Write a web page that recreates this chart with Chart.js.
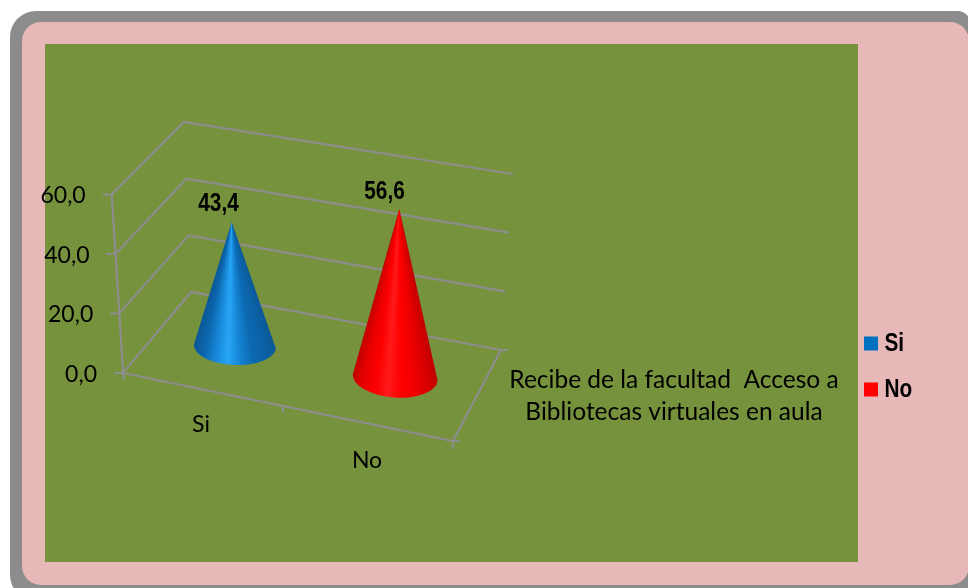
<!DOCTYPE html>
<html><head><meta charset="utf-8">
<style>html,body{margin:0;padding:0;background:#fff}canvas{display:block}</style>
<script src="https://cdn.jsdelivr.net/npm/chart.js@4"></script></head>
<body><div style="width:968px;height:588px"><canvas id="c"></canvas></div>
<script>
const categories = ['Si', 'No'];
const seriesSi = [43.4, null];
const seriesNo = [null, 56.6];
const tickLabels = ['0,0', '20,0', '40,0', '60,0'];
const valueLabels = ['43,4', '56,6'];
const depthTitle = ['Recibe de la facultad  Acceso a', 'Bibliotecas virtuales en aula'];

const BODY = 'Lato, "Open Sans", sans-serif';
const BOLD = '"Liberation Sans", sans-serif';
const GRID = '#8d8d8d';
const NARROW = 0.8;

// 3-D look: where each category sits on the perspective floor
const cones = [
  {dxBase: 0.2, dyBase: -26.5, dxTop: -2.9, dyTop: -22, rx: 41, ry: 18.5, tilt: 0.04, lab: [218.5, 203.5],
   stops: ['#0a5896', '#0c66ad', '#1787d6', '#27a5f7', '#1583d2', '#0c69b2', '#0b62a6', '#0a5896']},
  {dxBase: 0.2, dyBase: 4.5, dxTop: 4.3, dyTop: 4.4, rx: 42.5, ry: 20, tilt: 0.075, lab: [384.5, 191.5],
   stops: ['#c00000', '#e80000', '#fb0000', '#ff1a1a', '#ff0000', '#f20000', '#dc0000', '#c00000']}
];
const catLabelPos = [[201, 425], [367, 460.5]];

function wallPoints(yPx, t) {
  return {
    front: [123 - 11.3 * t, yPx],
    backL: [191 - 7 * t, yPx - 81 + 8.5 * t],
    backR: [501 + 12 * t, yPx - 23 + 2.5 * t]
  };
}
function line(ctx, pts) {
  ctx.beginPath();
  pts.forEach((p, i) => i ? ctx.lineTo(p[0], p[1]) : ctx.moveTo(p[0], p[1]));
  ctx.stroke();
}
function narrowText(ctx, s, x, y) {
  ctx.save(); ctx.translate(x, y); ctx.scale(NARROW, 1);
  ctx.fillText(s, 0, 0);
  ctx.restore();
}

const framePlugin = {
  id: 'frame',
  beforeDraw(chart) {
    const ctx = chart.ctx;
    ctx.save();
    ctx.fillStyle = '#ffffff'; ctx.fillRect(0, 0, 968, 588);
    ctx.fillStyle = '#8c8c8c';
    ctx.beginPath(); ctx.roundRect(10, 11, 960, 590, [26, 12, 0, 26]); ctx.fill();
    ctx.fillStyle = '#e6b8b7';
    ctx.beginPath(); ctx.roundRect(22, 22, 947, 563, 19); ctx.fill();
    ctx.fillStyle = '#76923c';
    ctx.fillRect(45, 44, 813, 518);
    ctx.restore();
  },
  beforeDatasetsDraw(chart) {
    const ctx = chart.ctx, y = chart.scales.y;
    ctx.save();
    ctx.strokeStyle = GRID; ctx.lineWidth = 2.2; ctx.lineJoin = 'miter';
    y.ticks.forEach((tk) => {
      const t = tk.value / y.max, py = y.getPixelForValue(tk.value), w = wallPoints(py, t);
      line(ctx, [[w.front[0] - 9, py], w.front, w.backL, w.backR]);
      ctx.fillStyle = '#000';
      ctx.font = '23px ' + BODY; ctx.textAlign = 'right'; ctx.textBaseline = 'middle';
      ctx.fillText(tk.label, w.front[0] - 26, py + 1.5);
    });
    const a = wallPoints(y.getPixelForValue(0), 0), b = wallPoints(y.getPixelForValue(y.max), 1);
    line(ctx, [b.front, [a.front[0] + 0.6, a.front[1] + 7]]);
    // floor
    const fr = [453, a.front[1] + 68];
    line(ctx, [a.front, fr, a.backR, [a.backR[0] + 7, a.backR[1]]]);
    line(ctx, [fr, [fr[0] + 7, fr[1]]]);
    line(ctx, [fr, [fr[0], fr[1] + 8]]);
    const mid = [(a.front[0] + fr[0]) / 2 - 5, (a.front[1] + fr[1]) / 2 - 0.5];
    line(ctx, [mid, [mid[0], mid[1] + 6]]);
    ctx.restore();
  },
  beforeDatasetDraw(chart, args) {
    const i = args.index, bar = args.meta.data[i], c = cones[i], ctx = chart.ctx;
    const cx = bar.x + c.dxBase, cy = bar.base + c.dyBase, ax = bar.x + c.dxTop, ay = bar.y + c.dyTop;
    const lx = cx - c.rx * Math.cos(c.tilt), ly = cy - c.rx * Math.sin(c.tilt);
    const rx = cx + c.rx * Math.cos(c.tilt), ry = cy + c.rx * Math.sin(c.tilt);
    const aR = Math.atan2(ry - ay, rx - ax), aL = Math.atan2(ly - ay, lx - ax);
    const grad = ctx.createConicGradient(aR, ax, ay), span = (aL - aR) / (2 * Math.PI);
    c.stops.slice().reverse().forEach((col, k, arr) => grad.addColorStop(span * k / (arr.length - 1), col));
    ctx.save();
    ctx.fillStyle = grad;
    ctx.beginPath();
    ctx.moveTo(ax, ay); ctx.lineTo(lx, ly);
    ctx.ellipse(cx, cy, c.rx, c.ry, c.tilt, Math.PI, 0, true);
    ctx.closePath(); ctx.fill();
    ctx.restore();
    return false;
  },
  afterDatasetsDraw(chart) {
    const ctx = chart.ctx;
    ctx.save();
    ctx.fillStyle = '#000'; ctx.textBaseline = 'middle'; ctx.textAlign = 'center';
    ctx.font = 'bold 26px ' + BOLD;
    valueLabels.forEach((s, i) => narrowText(ctx, s, cones[i].lab[0], cones[i].lab[1]));
    ctx.font = '23px ' + BODY;
    categories.forEach((s, i) => ctx.fillText(s, catLabelPos[i][0], catLabelPos[i][1]));
    ctx.font = '24.5px ' + BODY;
    ctx.fillText(depthTitle[0], 674, 380);
    ctx.fillText(depthTitle[1], 674, 412);
    ctx.restore();
  },
  afterLayout(chart) {
    const l = chart.legend;
    l.left = 850.5; l.right = 968; l.top = 310.5; l.bottom = 588;
    if (!l.__narrow) {
      l.__narrow = true;
      const draw = l.draw;
      l.draw = function () {
        const ctx = chart.ctx, fill = ctx.fillText;
        ctx.fillText = function (s, x, y) {
          ctx.save(); ctx.translate(x, y); ctx.scale(NARROW, 1);
          fill.call(ctx, s, 0, 0);
          ctx.restore();
        };
        draw.apply(this, arguments);
        delete ctx.fillText;
      };
    }
  }
};

const chart = new Chart(document.getElementById('c'), {
  type: 'bar',
  plugins: [framePlugin],
  data: {
    labels: categories,
    datasets: [
      {label: 'Si', data: seriesSi, backgroundColor: '#0070c0', borderColor: '#0070c0', borderWidth: 13},
      {label: 'No', data: seriesNo, backgroundColor: '#ff0000', borderColor: '#ff0000', borderWidth: 13}
    ]
  },
  options: {
    responsive: true, maintainAspectRatio: false, animation: false,
    layout: {padding: {left: 154.4, right: 400, top: 194.5, bottom: 215}},
    scales: {
      x: {display: false, stacked: true},
      y: {
        stacked: true, min: 0, max: 60,
        afterFit(s) { s.width = 0; },
        grid: {display: false}, border: {display: false},
        ticks: {display: false, stepSize: 20, callback: (v, i) => tickLabels[i]}
      }
    },
    plugins: {
      tooltip: {enabled: false},
      legend: {
        position: 'right', align: 'start',
        labels: {
          boxWidth: 1, boxHeight: 1, padding: 20, color: '#000',
          font: {family: BOLD, size: 26, weight: 'bold'}
        }
      }
    }
  }
});
chart.options.layout.padding.right = 968 - 475.2 - chart.legend.width;
chart.update();
</script></body></html>
